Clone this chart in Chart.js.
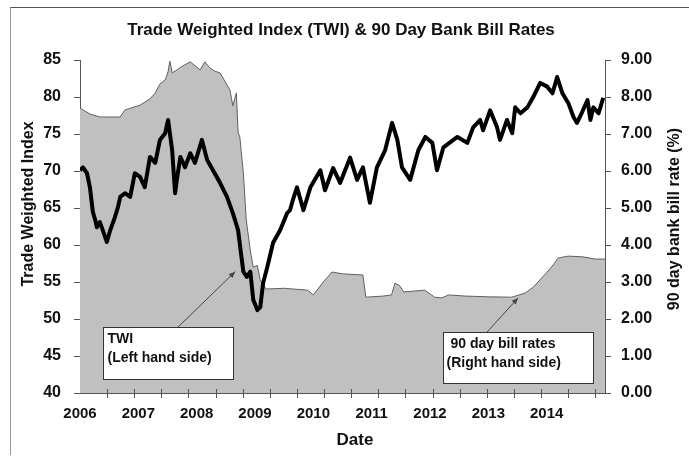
<!DOCTYPE html>
<html lang="en">
<head>
<meta charset="UTF-8">
<title>TWI and 90 Day Bank Bill Rates</title>
<script src="https://cdn.jsdelivr.net/npm/chart.js"></script>
<style>
  body { margin: 0; background: #ffffff; }
  #wrap { position: relative; width: 689px; height: 457px; }
  #frame { position: absolute; left: 10px; top: 7px; right: 0; bottom: 2px;
           border-left: 1px solid #999; border-top: 1px solid #555; }
  canvas { position: absolute; left: 0; top: 0; }
</style>
</head>
<body>
<div id="wrap">
  <div id="frame"></div>
  <canvas id="twiChart" width="689" height="457"></canvas>
</div>
<script>
// Trade weighted index (left axis)
const twiYears = [
  2006.00, 2006.05, 2006.12, 2006.17, 2006.22, 2006.26, 2006.29, 2006.34, 2006.39, 2006.46,
  2006.51, 2006.60, 2006.65, 2006.69, 2006.77, 2006.86, 2006.94, 2007.03, 2007.11, 2007.20,
  2007.29, 2007.37, 2007.46, 2007.51, 2007.58, 2007.63, 2007.66, 2007.72, 2007.80, 2007.89,
  2007.97, 2008.09, 2008.18, 2008.28, 2008.40, 2008.52, 2008.62, 2008.71, 2008.80, 2008.86,
  2008.92, 2008.97, 2009.04, 2009.09, 2009.14, 2009.21, 2009.31, 2009.43, 2009.55, 2009.60,
  2009.65, 2009.72, 2009.83, 2009.95, 2010.12, 2010.20, 2010.34, 2010.46, 2010.63, 2010.75,
  2010.85, 2010.97, 2011.09, 2011.23, 2011.35, 2011.44, 2011.52, 2011.66, 2011.80, 2011.92,
  2012.04, 2012.12, 2012.23, 2012.47, 2012.64, 2012.74, 2012.86, 2012.91, 2013.03, 2013.15,
  2013.20, 2013.32, 2013.41, 2013.46, 2013.55, 2013.67, 2013.77, 2013.89, 2014.01, 2014.10,
  2014.18, 2014.27, 2014.37, 2014.46, 2014.52, 2014.61, 2014.70, 2014.75, 2014.80, 2014.89,
  2014.97
];
const twiValues = [
  70.1, 70.5, 69.7, 67.8, 64.5, 63.4, 62.4, 63.1, 62.0, 60.4,
  61.8, 63.8, 65.1, 66.5, 67.0, 66.5, 69.7, 69.2, 67.8, 71.9,
  71.1, 74.2, 75.1, 76.9, 72.8, 67.0, 68.8, 71.9, 70.5, 72.4,
  71.1, 74.2, 71.5, 70.1, 68.4, 66.5, 64.3, 62.0, 56.4, 55.7,
  56.4, 52.6, 51.2, 51.6, 54.9, 57.0, 60.3, 62.0, 64.3, 64.7,
  66.1, 67.8, 64.7, 67.8, 70.1, 67.4, 70.4, 68.4, 71.8, 68.8,
  70.5, 65.7, 70.5, 72.8, 76.5, 74.2, 70.5, 68.8, 72.8, 74.6,
  73.8, 70.1, 73.2, 74.6, 73.8, 75.9, 76.9, 75.5, 78.2, 75.9,
  74.2, 76.9, 75.1, 78.6, 77.8, 78.6, 80.0, 81.9, 81.4, 80.5,
  82.7, 80.5, 79.2, 77.3, 76.5, 78.0, 79.6, 76.9, 78.6, 77.8,
  79.9
];

// 90 day bank bill rate % (right axis)
const billYears = [
  2006.00, 2006.17, 2006.34, 2006.69, 2006.77, 2007.03, 2007.20, 2007.29, 2007.37, 2007.46,
  2007.51, 2007.54, 2007.58, 2007.63, 2007.72, 2007.89, 2008.06, 2008.14, 2008.23, 2008.31,
  2008.40, 2008.49, 2008.57, 2008.62, 2008.68, 2008.71, 2008.74, 2008.80, 2008.85, 2008.92,
  2008.97, 2009.04, 2009.09, 2009.19, 2009.50, 2009.90, 2010.00, 2010.17, 2010.32, 2010.50,
  2010.85, 2010.90, 2011.20, 2011.34, 2011.40, 2011.48, 2011.55, 2011.91, 2012.08, 2012.20,
  2012.32, 2012.60, 2013.00, 2013.40, 2013.63, 2013.77, 2014.01, 2014.11, 2014.20, 2014.37,
  2014.62, 2014.83, 2015.00
];
const billValues = [
  7.70, 7.54, 7.46, 7.46, 7.65, 7.78, 7.95, 8.11, 8.35, 8.46,
  8.68, 8.97, 8.65, 8.70, 8.80, 8.95, 8.73, 8.95, 8.78, 8.70,
  8.65, 8.41, 8.19, 7.76, 8.11, 7.05, 6.92, 5.95, 4.68, 3.84,
  3.40, 3.45, 3.05, 2.81, 2.83, 2.78, 2.65, 3.00, 3.27, 3.22,
  3.19, 2.59, 2.62, 2.65, 2.97, 2.90, 2.73, 2.78, 2.59, 2.57,
  2.65, 2.62, 2.60, 2.59, 2.70, 2.86, 3.27, 3.46, 3.65, 3.70,
  3.68, 3.62, 3.62
];

const yearTicks = [2006, 2007, 2008, 2009, 2010, 2011, 2012, 2013, 2014];
const minorStep = 0.465;   // spacing of the little date-axis tick marks

const FONT = '"Liberation Sans", Arial, sans-serif';

// callout boxes, placed in data units
const callouts = [
  { axis: 'y',  x0: 2006.39, x1: 2008.62, yTop: 48.9, yBot: 41.9,
    lines: ['TWI', '(Left hand side)'], indent: [4, 4],
    arrowFrom: [2007.68, 48.9], arrowTo: [2008.66, 56.4] },
  { axis: 'y1', x0: 2012.23, x1: 2014.80, yTop: 1.65, yBot: 0.27,
    lines: ['90 day bill rates', '(Right hand side)'], indent: [7, 3],
    arrowFrom: [2012.98, 1.65], arrowTo: [2013.51, 2.57] }
];

const overlay = {
  id: 'overlay',
  afterDraw(chart) {
    const ctx = chart.ctx;
    const x = chart.scales.x;
    const area = chart.chartArea;
    ctx.save();

    // small tick marks along the date axis
    ctx.strokeStyle = '#555';
    ctx.lineWidth = 1;
    for (let t = 2006 + minorStep; t < 2015; t += minorStep) {
      const px = Math.round(x.getPixelForValue(t)) + 0.5;
      ctx.beginPath();
      ctx.moveTo(px, area.bottom - 4);
      ctx.lineTo(px, area.bottom + 5);
      ctx.stroke();
    }

    // callouts
    callouts.forEach(c => {
      const ys = chart.scales[c.axis];
      const l = Math.round(x.getPixelForValue(c.x0)) + 0.5;
      const r = Math.round(x.getPixelForValue(c.x1)) + 0.5;
      const t = Math.round(ys.getPixelForValue(c.yTop)) + 0.5;
      const b = Math.round(ys.getPixelForValue(c.yBot)) + 0.5;

      const ax0 = x.getPixelForValue(c.arrowFrom[0]), ay0 = ys.getPixelForValue(c.arrowFrom[1]);
      const ax1 = x.getPixelForValue(c.arrowTo[0]), ay1 = ys.getPixelForValue(c.arrowTo[1]);
      ctx.strokeStyle = '#444';
      ctx.fillStyle = '#444';
      ctx.lineWidth = 1;
      ctx.beginPath();
      ctx.moveTo(ax0, ay0);
      ctx.lineTo(ax1, ay1);
      ctx.stroke();
      const ang = Math.atan2(ay1 - ay0, ax1 - ax0);
      ctx.beginPath();
      ctx.moveTo(ax1, ay1);
      ctx.lineTo(ax1 - 7 * Math.cos(ang - 0.4), ay1 - 7 * Math.sin(ang - 0.4));
      ctx.lineTo(ax1 - 7 * Math.cos(ang + 0.4), ay1 - 7 * Math.sin(ang + 0.4));
      ctx.closePath();
      ctx.fill();

      ctx.fillStyle = '#ffffff';
      ctx.fillRect(l, t, r - l, b - t);
      ctx.strokeStyle = '#333';
      ctx.strokeRect(l, t, r - l, b - t);

      ctx.fillStyle = '#111';
      ctx.font = 'bold 14px ' + FONT;
      ctx.textAlign = 'left';
      ctx.textBaseline = 'middle';
      ctx.fillText(c.lines[0], l + c.indent[0], t + 12);
      ctx.fillText(c.lines[1], l + c.indent[1], t + 31);
    });

    // titles
    ctx.fillStyle = '#111';
    ctx.textAlign = 'center';
    ctx.textBaseline = 'middle';
    ctx.font = 'bold 17px ' + FONT;
    ctx.fillText('Trade Weighted Index (TWI) & 90 Day Bank Bill Rates', 341, 30);

    ctx.font = 'bold 17px ' + FONT;
    ctx.fillText('Date', 355, 440);

    ctx.font = 'bold 16px ' + FONT;
    ctx.save();
    ctx.translate(29, 204);
    ctx.rotate(-Math.PI / 2);
    ctx.fillText('Trade Weighted Index', 0, 0);
    ctx.restore();

    ctx.save();
    ctx.translate(675, 219);
    ctx.rotate(-Math.PI / 2);
    ctx.fillText('90 day bank bill rate (%)', 0, 0);
    ctx.restore();

    ctx.restore();
  }
};

const twiPoints = twiYears.map((yr, i) => ({ x: yr, y: twiValues[i] }));
const billPoints = billYears.map((yr, i) => ({ x: yr, y: billValues[i] }));

const ctx = document.getElementById('twiChart').getContext('2d');
const chart = new Chart(ctx, {
  type: 'line',
  data: {
    datasets: [
      {
        label: 'TWI',
        data: twiPoints,
        yAxisID: 'y',
        borderColor: '#000000',
        borderWidth: 4,
        borderJoinStyle: 'round',
        pointRadius: 0,
        tension: 0,
        fill: false
      },
      {
        label: '90 day bill rates',
        data: billPoints,
        yAxisID: 'y1',
        borderColor: '#606060',
        borderWidth: 1,
        backgroundColor: '#c0c0c0',
        pointRadius: 0,
        tension: 0,
        fill: 'origin'
      }
    ]
  },
  options: {
    responsive: false,
    animation: false,
    layout: { padding: { top: 60, left: 0, right: 0, bottom: 0 } },
    plugins: {
      legend: { display: false },
      tooltip: { enabled: false },
      title: { display: false }
    },
    scales: {
      x: {
        type: 'linear',
        min: 2006,
        max: 2015,
        afterBuildTicks: scale => { scale.ticks = yearTicks.map(v => ({ value: v })); },
        afterFit: scale => { scale.height = 64; },
        ticks: {
          callback: v => String(v),
          autoSkip: false,
          maxRotation: 0,
          padding: 6,
          color: '#111',
          font: { family: FONT, size: 15, weight: 'bold' }
        },
        grid: { drawOnChartArea: false, tickLength: 6, tickColor: 'rgba(0,0,0,0)' },
        border: { color: '#555', width: 1 }
      },
      y: {
        position: 'left',
        min: 40,
        max: 85,
        afterFit: scale => { scale.width = 80; },
        ticks: {
          stepSize: 5,
          padding: 13,
          color: '#111',
          font: { family: FONT, size: 16, weight: 'bold' }
        },
        grid: { drawOnChartArea: false, tickLength: 6, color: '#555' },
        border: { color: '#555', width: 1 }
      },
      y1: {
        position: 'right',
        min: 0,
        max: 9,
        afterFit: scale => { scale.width = 84; },
        ticks: {
          stepSize: 1,
          padding: 10,
          callback: v => v.toFixed(2),
          color: '#111',
          font: { family: FONT, size: 16, weight: 'bold' }
        },
        grid: { drawOnChartArea: false, tickLength: 6, color: '#555' },
        border: { color: '#555', width: 1 }
      }
    }
  },
  plugins: [overlay]
});
</script>
</body>
</html>
